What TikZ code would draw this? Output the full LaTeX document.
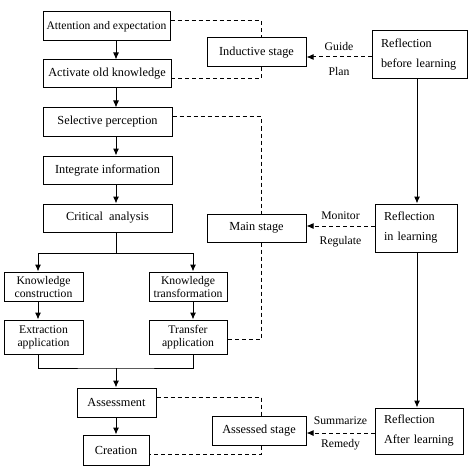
\documentclass[tikz,border=0pt]{standalone}
\usepackage{fontspec}
\setmainfont{Liberation Serif}
\usetikzlibrary{arrows.meta}

\begin{document}
\begin{tikzpicture}[x=1pt, y=-1pt,
  box/.style={draw, line width=1pt, inner sep=0pt, align=center, font=\fontsize{12.3}{13}\selectfont},
  twoline/.style={box, font=\fontsize{11.7}{13}\selectfont},
  refl/.style={draw, line width=1pt, inner xsep=9pt, inner ysep=0pt, align=left, font=\fontsize{12.2}{20}\selectfont},
  lbl/.style={inner sep=1.5pt, font=\fontsize{11.7}{13}\selectfont},
  arr/.style={line width=1pt, -{Latex[length=7pt,width=6pt]}},
  dsh/.style={line width=1pt, dash pattern=on 4pt off 3pt}]
  \useasboundingbox (0,0) rectangle (474,476);

  \pgfmathsetmacro{\spine}{116}
  \pgfmathsetmacro{\dashx}{261}
  \pgfmathsetmacro{\lx}{38}
  \pgfmathsetmacro{\rx}{193}
  \pgfmathsetmacro{\reflx}{417}

  \coordinate (sp) at (\spine,0);
  \coordinate (dx) at (\dashx,0);
  \coordinate (lb) at (\lx,0);
  \coordinate (rbr) at (\rx,0);
  \coordinate (rfx) at (\reflx,0);
  \coordinate (split) at (\spine,253);
  \coordinate (join) at (\spine,368);

  \node[box, font=\fontsize{11.6}{13}\selectfont, minimum width=127pt, minimum height=29pt] (att) at (106.5,26.5) {Attention and expectation};
  \node[box, minimum width=128pt, minimum height=28pt] (act) at (107,74) {Activate old knowledge};
  \node[box, minimum width=129pt, minimum height=28pt] (sel) at (107.5,122) {Selective perception};
  \node[box, minimum width=129pt, minimum height=28pt] (integ) at (107.5,170) {Integrate information};
  \node[box, minimum width=129pt, minimum height=28pt] (crit) at (107.5,218) {Critical\ \ analysis};

  \node[twoline, minimum width=79pt, minimum height=29pt] (kc) at (43.5,286.5) {Knowledge\\construction};
  \node[twoline, minimum width=78pt, minimum height=29pt] (kt) at (188,286.5) {Knowledge\\transformation};
  \node[twoline, minimum width=79pt, minimum height=34pt] (ea) at (43.5,337) {Extraction\\application};
  \node[twoline, minimum width=78pt, minimum height=34pt] (ta) at (188,337) {Transfer\\application};

  \node[box, minimum width=79pt, minimum height=29pt] (asm) at (116.5,402.5) {Assessment};
  \node[box, minimum width=66pt, minimum height=30pt] (cre) at (116,450) {Creation};

  \node[box, minimum width=99pt, minimum height=29pt] (inductive) at (256.5,52.5) {Inductive stage};
  \node[box, minimum width=99pt, minimum height=28pt] (mainst) at (256.5,228) {Main stage};
  \node[box, minimum width=94pt, minimum height=29pt] (assessed) at (259,430.5) {Assessed stage};

  \node[refl, text width=77pt, minimum height=48pt] (refbefore) at (419.5,55) {Reflection\\before learning};
  \node[refl, text width=64pt, minimum height=48pt] (refin) at (416,228) {Reflection\\in learning};
  \node[refl, text width=70pt, minimum height=46pt] (refafter) at (419,431) {Reflection\\After learning};

  \foreach \a/\b in {att/act, act/sel, sel/integ, integ/crit, asm/cre}{
    \draw[arr] (\a.south -| sp) -- (\b.north -| sp);
  }

  \draw[line width=1pt] (crit.south -| sp) -- (split);
  \draw[arr] (split) -| (kc.north -| lb);
  \draw[arr] (split) -| (kt.north -| rbr);
  \draw[arr] (kc.south -| lb) -- (ea.north -| lb);
  \draw[arr] (kt.south -| rbr) -- (ta.north -| rbr);
  \draw[line width=1pt] (ea.south -| lb) |- (join) -| (ta.south -| rbr);
  \draw[arr] (join) -- (asm.north -| sp);

  \draw[dsh] ([yshift=5.5pt]att.east) -| (inductive.north -| dx);
  \draw[dsh] (inductive.south -| dx) |- ([yshift=-5pt]act.east);
  \draw[dsh] ([yshift=5pt]sel.east) -| (mainst.north -| dx);
  \draw[dsh] (mainst.south -| dx) |- ([yshift=-2pt]ta.east);
  \draw[dsh] ([yshift=5.5pt]asm.east) -| (assessed.north -| dx);
  \draw[dsh] (assessed.south -| dx) |- ([yshift=-4pt]cre.east);

  \draw[arr] (refbefore.south -| rfx) -- (refin.north -| rfx);
  \draw[arr] (refin.south -| rfx) -- (refafter.north -| rfx);

  \draw[dsh, arr] ([yshift=-2pt]refbefore.west) -- node[lbl, above=4pt] (guide) {Guide} node[lbl, below=8pt] (plan) {Plan} ([yshift=-2pt]refbefore.west -| inductive.east);
  \draw[dsh, arr] ([yshift=2pt]refin.west) -- node[lbl, above=4pt] (monitor) {Monitor} node[lbl, below=8pt] (regulate) {Regulate} ([yshift=2pt]refin.west -| mainst.east);
  \draw[dsh, arr] ([yshift=-2pt]refafter.west) -- node[lbl, above=6pt] (summarize) {Summarize} node[lbl, below=4pt] (remedy) {Remedy} ([yshift=-2pt]refafter.west -| assessed.east);
\end{tikzpicture}
\end{document}
